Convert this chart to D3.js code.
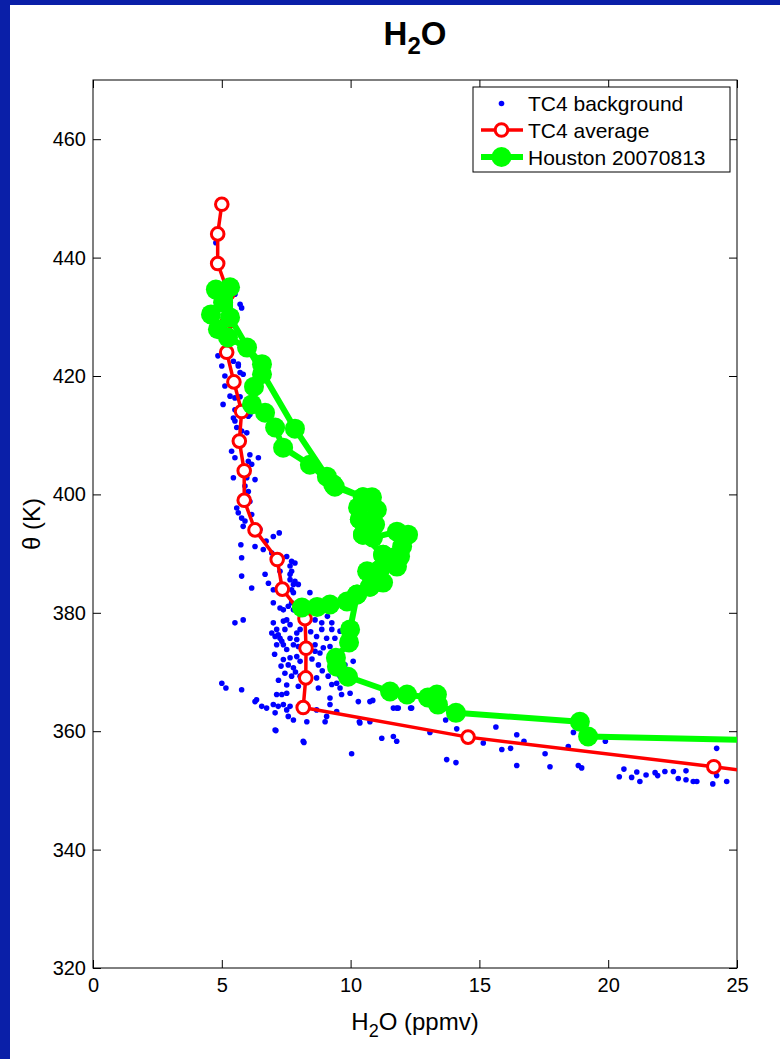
<!DOCTYPE html>
<html>
<head>
<meta charset="utf-8">
<script src="https://cdn.jsdelivr.net/npm/d3@7"></script>
<style>
  body { margin: 0; }
  text { font-family: "Liberation Sans", Arial, sans-serif; }
</style>
</head>
<body>
<div id="chart"></div>
<script>
// tick values
const xTicks = [0, 5, 10, 15, 20, 25];
const yTicks = [320, 340, 360, 380, 400, 420, 440, 460];

// TC4 average profile (5 K bins)
const avgTheta = [449, 444, 439, 434, 429, 424, 419, 414, 409, 404, 399, 394, 389, 384, 379, 374, 369, 364, 359, 354, 349];
const avgH2O   = [5.0, 4.84, 4.84, 5.25, 5.2, 5.19, 5.47, 5.77, 5.68, 5.87, 5.87, 6.29, 7.15, 7.35, 8.23, 8.27, 8.26, 8.16, 14.56, 24.1, 33];

// Houston 20070813 profile, in flight order
const houH2O = [8.11, 8.70, 9.20, 9.86, 10.25, 10.75, 11.26, 10.64, 11.14, 11.80, 11.92, 11.26, 12.00, 12.23, 11.80, 10.87, 10.48, 10.95, 10.36, 11.02, 10.29, 10.83, 10.48,
  9.32, 8.42, 7.38, 7.07, 6.68, 6.17, 6.25, 6.56, 6.56, 5.98, 5.24, 4.85, 4.58, 5.05, 4.77, 5.12, 5.32, 5.32,
  7.84, 9.08, 9.39, 10.48, 10.36, 10.48, 11.26, 11.14, 10.75, 10.25,
  9.98, 9.94, 9.43, 9.47, 9.90, 11.53, 12.19, 13.00, 13.35, 13.39, 14.09, 18.90, 19.22, 30];
const houTheta = [380.9, 381.0, 381.4, 381.9, 383.1, 384.4, 385.1, 387.0, 387.3, 387.8, 389.5, 389.8, 391.2, 393.2, 393.7, 392.7, 393.2, 394.9, 395.8, 397.4, 397.8, 399.5, 399.5,
  401.7, 405.0, 407.9, 411.3, 413.8, 415.2, 418.2, 420.3, 422.0, 424.8, 426.5, 427.9, 430.4, 432.4, 434.6, 434.3, 435.0, 429.9,
  411.1, 403.0, 401.3, 399.5, 395.8, 393.2, 389.8, 387.3, 384.4, 383.1,
  377.2, 375.0, 372.4, 370.9, 369.2, 366.7, 366.2, 365.7, 366.2, 364.5, 363.1, 361.6, 359.1, 358.1];

// TC4 background samples [H2O, theta]
const bgPoints = [
  [4.77,442.5],[5.32,436.0],[5.51,434.4],[5.51,433.8],[5.71,432.1],[5.77,431.5],
  [4.85,423.4],[5.00,421.7],[5.45,422.5],[5.64,422.0],[5.64,421.7],[5.12,420.0],[5.71,420.6],[5.83,420.3],
  [5.12,418.3],[5.32,416.6],[5.51,416.3],[5.05,415.2],[5.71,416.5],[5.51,414.3],[5.45,412.9],[6.03,413.2],
  [6.09,413.5],[5.58,411.3],[5.97,410.4],[5.77,410.7],[5.51,412.4],
  [5.38,407.3],[5.51,406.2],[6.09,406.7],[6.42,406.2],[6.03,405.6],[6.16,405.1],
  [5.45,402.8],[5.97,402.8],[6.29,402.5],[5.90,401.4],[6.03,400.5],
  [5.58,397.7],[5.64,396.9],[6.09,398.8],[5.77,396.0],[5.90,395.5],[6.16,396.6],
  [5.83,394.6],[6.48,394.1],[7.00,392.9],[7.23,393.5],
  [5.74,391.5],[6.29,391.2],[6.72,392.1],[6.61,390.7],
  [5.77,389.3],[6.94,390.1],[7.13,389.5],[7.52,389.5],[7.71,388.7],[7.84,388.4],[7.65,387.9],
  [5.77,386.2],[6.68,386.5],[7.26,387.0],[7.65,386.5],[7.84,385.3],[7.97,384.8],
  [6.16,384.2],[6.81,385.0],[7.00,383.9],[7.71,383.9],[7.78,383.4],[8.42,383.4],
  [7.00,381.7],[7.26,380.8],[7.58,381.1],[5.51,378.3],[5.83,378.8],
  [7.71,387.0],[7.65,385.6],[7.78,384.8],
  [7.39,380.5],[7.71,381.7],[7.78,380.5],
  [7.00,378.3],[7.39,378.6],[7.52,378.8],[7.13,377.2],[7.65,378.0],[8.04,377.2],[8.62,378.8],[8.88,378.3],
  [9.27,378.3],[8.88,377.2],[9.27,377.2],[9.59,376.9],
  [7.07,376.0],[7.26,375.7],[7.91,376.6],[7.91,375.5],[8.68,376.0],[9.07,375.7],[9.39,375.7],
  [6.94,376.6],[7.19,376.3],[7.33,375.2],[7.65,375.7],[7.45,377.2],[7.78,374.6],[7.05,373.0],[7.30,371.0],
  [7.20,368.6],[7.52,367.8],[7.86,370.0],[8.50,372.2],[8.90,370.2],[9.35,372.8],[8.45,376.8],[9.10,379.4],
  [7.13,374.6],[7.39,374.6],[7.52,373.8],[7.97,374.3],[8.62,374.6],[8.94,374.1],[9.20,374.3],[8.62,373.5],[8.81,373.2],
  [7.39,372.1],[7.65,372.4],[7.91,372.6],[7.58,371.2],[7.78,370.7],[8.04,371.8],[8.75,371.2],[9.78,371.2],[10.10,371.8],
  [7.45,369.8],[7.71,369.3],[8.04,369.3],[8.68,369.0],[9.13,369.3],[9.59,369.3],
  [7.97,367.6],[8.75,367.3],[9.27,367.9],[9.46,368.1],[9.59,367.3],
  [7.13,366.2],[7.33,366.2],[7.52,366.4],[9.20,365.6],[9.65,366.2],[9.98,366.4],[10.30,365.0],
  [6.35,365.3],[6.29,365.0],[6.55,364.2],[6.74,363.9],[7.00,364.5],[7.19,364.2],[7.39,364.5],[7.52,363.6],
  [7.65,364.2],[7.07,363.1],[7.58,362.5],[7.78,361.9],[8.68,363.6],[9.20,364.5],[9.07,362.5],[9.46,363.3],
  [10.75,365.0],[11.66,363.9],[11.79,363.9],[12.37,363.9],
  [8.30,361.6],[9.01,361.6],[10.36,361.4],[10.75,361.6],
  [7.07,360.2],[8.16,358.3],[11.21,358.8],[11.66,359.1],[11.79,358.3],
  [5.00,368.1],[5.16,367.3],[5.77,367.0],[7.10,360.1],[8.19,358.1],
  [10.86,365.2],[11.85,363.9],[12.33,363.9],[10.34,361.6],[13.08,359.8],[13.69,361.9],[14.12,360.4],
  [10.04,356.2],[13.73,355.2],[14.09,354.7],[15.15,358.0],[15.64,360.7],[15.87,356.9],[16.21,357.1],
  [16.45,359.4],[16.73,358.3],[16.45,354.2],[17.55,356.2],[17.74,354.0],[18.45,357.4],[18.65,359.8],
  [18.84,354.2],[18.97,353.8],[19.89,358.3],[20.43,352.3],[20.61,353.6],[20.91,352.2],[21.11,353.1],
  [21.23,351.5],[21.47,352.6],[21.82,353.0],[21.92,352.5],[22.20,353.2],[22.53,353.2],[22.72,352.0],
  [23.02,353.3],[23.02,351.8],[23.30,351.5],[23.44,351.5],[24.06,351.1],[24.21,357.1],[24.21,352.5],[24.60,351.5]
];

const legendLabels = ["TC4 background", "TC4 average", "Houston 20070813"];

const width = 780, height = 1059;
const plot = {left: 93, right: 737, top: 80, bottom: 968};

const svg = d3.select("#chart").append("svg")
  .attr("width", width)
  .attr("height", height);

// blue frame
svg.append("rect").attr("width", width).attr("height", height).attr("fill", "#0a1fa8");
svg.append("rect").attr("x", 10).attr("y", 5).attr("width", width - 10).attr("height", height - 5).attr("fill", "#ffffff");

const x = d3.scaleLinear().domain([0, 25]).range([plot.left, plot.right]);
const y = d3.scaleLinear().domain([320, 470]).range([plot.bottom, plot.top]);

svg.append("defs").append("clipPath").attr("id", "plotClip")
  .append("rect")
  .attr("x", plot.left).attr("y", plot.top)
  .attr("width", plot.right - plot.left).attr("height", plot.bottom - plot.top);

// axes (MATLAB style: ticks inside, box)
const tickLen = 8;
function styleAxis(g) {
  g.select(".domain").remove();
  g.selectAll(".tick line").attr("stroke", "#000");
  g.selectAll(".tick text").attr("fill", "#000").style("font-size", "20px");
}

svg.append("g")
  .attr("transform", `translate(0,${plot.bottom})`)
  .call(d3.axisBottom(x).tickValues(xTicks).tickSizeInner(-tickLen).tickSizeOuter(0).tickPadding(6))
  .call(styleAxis)
  .selectAll(".tick text").attr("dy", "0.9em");

svg.append("g")
  .attr("transform", `translate(0,${plot.top})`)
  .call(d3.axisTop(x).tickValues(xTicks).tickSizeInner(-tickLen).tickSizeOuter(0).tickFormat(""))
  .call(styleAxis);

svg.append("g")
  .attr("transform", `translate(${plot.left},0)`)
  .call(d3.axisLeft(y).tickValues(yTicks).tickSizeInner(-tickLen).tickSizeOuter(0).tickPadding(7))
  .call(styleAxis);

svg.append("g")
  .attr("transform", `translate(${plot.right},0)`)
  .call(d3.axisRight(y).tickValues(yTicks).tickSizeInner(-tickLen).tickSizeOuter(0).tickFormat(""))
  .call(styleAxis);

svg.append("rect")
  .attr("x", plot.left).attr("y", plot.top)
  .attr("width", plot.right - plot.left).attr("height", plot.bottom - plot.top)
  .attr("fill", "none").attr("stroke", "#000").attr("stroke-width", 1);

// data layer
const layer = svg.append("g").attr("clip-path", "url(#plotClip)");

layer.selectAll(".bg")
  .data(bgPoints)
  .enter().append("circle")
  .attr("class", "bg")
  .attr("cx", d => x(d[0]))
  .attr("cy", d => y(d[1]))
  .attr("r", 2.8)
  .attr("fill", "#0000ff");

const houston = houH2O.map((v, i) => [v, houTheta[i]]);
const average = avgH2O.map((v, i) => [v, avgTheta[i]]);
const line = d3.line().x(d => x(d[0])).y(d => y(d[1]));

layer.append("path")
  .datum(average)
  .attr("d", line)
  .attr("fill", "none")
  .attr("stroke", "#ff0000")
  .attr("stroke-width", 3.5);

layer.selectAll(".avg")
  .data(average)
  .enter().append("circle")
  .attr("class", "avg")
  .attr("cx", d => x(d[0]))
  .attr("cy", d => y(d[1]))
  .attr("r", 6.3)
  .attr("fill", "#ffffff")
  .attr("stroke", "#ff0000")
  .attr("stroke-width", 3);

layer.append("path")
  .datum(houston)
  .attr("d", line)
  .attr("fill", "none")
  .attr("stroke", "#00ff00")
  .attr("stroke-width", 6)
  .attr("stroke-linejoin", "round");

layer.selectAll(".hou")
  .data(houston)
  .enter().append("circle")
  .attr("class", "hou")
  .attr("cx", d => x(d[0]))
  .attr("cy", d => y(d[1]))
  .attr("r", 10)
  .attr("fill", "#00ff00");

// legend
const legend = svg.append("g").attr("transform", "translate(473,87)");
legend.append("rect")
  .attr("width", 257).attr("height", 85)
  .attr("fill", "#fff").attr("stroke", "#000").attr("stroke-width", 1);

const rowY = [16.5, 43, 70];
legend.selectAll(".ltext")
  .data(legendLabels)
  .enter().append("text")
  .attr("x", 55)
  .attr("y", (d, i) => rowY[i])
  .attr("dy", "0.36em")
  .style("font-size", "21px")
  .text(d => d);

legend.append("circle").attr("cx", 28.5).attr("cy", rowY[0]).attr("r", 2.8).attr("fill", "#0000ff");
legend.append("line").attr("x1", 8).attr("x2", 50).attr("y1", rowY[1]).attr("y2", rowY[1])
  .attr("stroke", "#ff0000").attr("stroke-width", 3.5);
legend.append("circle").attr("cx", 28.5).attr("cy", rowY[1]).attr("r", 6.3)
  .attr("fill", "#fff").attr("stroke", "#ff0000").attr("stroke-width", 3);
legend.append("line").attr("x1", 8).attr("x2", 50).attr("y1", rowY[2]).attr("y2", rowY[2])
  .attr("stroke", "#00ff00").attr("stroke-width", 6);
legend.append("circle").attr("cx", 28.5).attr("cy", rowY[2]).attr("r", 10).attr("fill", "#00ff00");

// title
const title = svg.append("text")
  .attr("x", 415).attr("y", 45)
  .attr("text-anchor", "middle")
  .style("font-size", "33px").style("font-weight", "bold");
title.append("tspan").text("H");
title.append("tspan").attr("dy", 9).style("font-size", "24px").text("2");
title.append("tspan").attr("dy", -9).text("O");

// x label
const xlab = svg.append("text")
  .attr("x", 415).attr("y", 1030)
  .attr("text-anchor", "middle")
  .style("font-size", "24px");
xlab.append("tspan").text("H");
xlab.append("tspan").attr("dy", 7).style("font-size", "18px").text("2");
xlab.append("tspan").attr("dy", -7).text("O (ppmv)");

// y label
svg.append("text")
  .attr("transform", "translate(40,524) rotate(-90)")
  .attr("text-anchor", "middle")
  .style("font-size", "24px")
  .text("θ (K)");
</script>
</body>
</html>
